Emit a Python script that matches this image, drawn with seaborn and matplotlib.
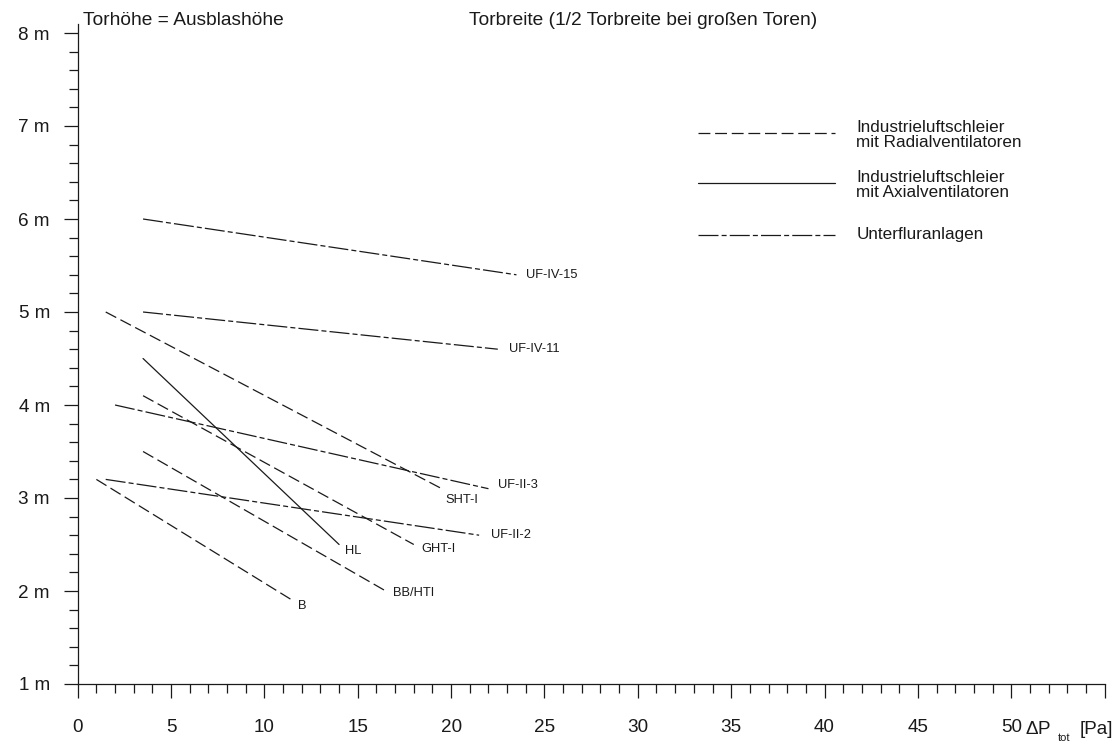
import matplotlib
matplotlib.use("Agg")
import matplotlib.pyplot as plt
import matplotlib.transforms as mtransforms
from matplotlib.lines import Line2D
import numpy as np
import pandas as pd
import seaborn as sns

# ---------------- data ----------------
names = ["B", "BB/HTI", "GHT-I", "SHT-I", "HL",
         "UF-II-2", "UF-II-3", "UF-IV-11", "UF-IV-15"]
groups = ["radial", "radial", "radial", "radial", "axial",
          "unterflur", "unterflur", "unterflur", "unterflur"]
x_start = [1.0, 3.5, 3.5, 1.5, 3.5, 1.5, 2.0, 3.5, 3.5]
x_end = [11.5, 16.5, 18.0, 19.5, 14.0, 21.5, 22.0, 22.5, 23.5]
y_start = [3.2, 3.5, 4.1, 5.0, 4.5, 3.2, 4.0, 5.0, 6.0]
y_end = [1.9, 2.0, 2.5, 3.1, 2.5, 2.6, 3.1, 4.6, 5.4]

x_ticks = [0, 5, 10, 15, 20, 25, 30, 35, 40, 45, 50, 55]
x_ticklabels = ["0", "5", "10", "15", "20", "25", "30", "35", "40", "45", "50", ""]
y_ticks = [1, 2, 3, 4, 5, 6, 7, 8]
y_ticklabels = ["1 m", "2 m", "3 m", "4 m", "5 m", "6 m", "7 m", "8 m"]

legend_labels = ["Industrieluftschleier\nmit Radialventilatoren",
                 "Industrieluftschleier\nmit Axialventilatoren",
                 "Unterfluranlagen"]
legend_groups = ["radial", "axial", "unterflur"]

title_left = "Torhöhe = Ausblashöhe"
title_right = "Torbreite (1/2 Torbreite bei großen Toren)"
x_unit_main = r"$\Delta$P"
x_unit_sub = "tot"
x_unit_tail = "[Pa]"

# ---------------- styles ----------------
line_styles = {
    "radial": (0, (9.5, 3.8)),
    "axial": "-",
    "unterflur": (0, (16, 2.5, 4, 2.5)),
}
label_offsets_px = {
    "B": (6, -6), "BB/HTI": (7, -2), "GHT-I": (8, -5), "SHT-I": (4, -11),
    "HL": (6, -7), "UF-II-2": (12, 0), "UF-II-3": (10, 4),
    "UF-IV-11": (11, 0), "UF-IV-15": (10, 0),
}

sns.set_theme(style="ticks")
plt.rcParams["font.family"] = ["Liberation Sans", "DejaVu Sans"]
plt.rcParams["mathtext.fontset"] = "custom"
plt.rcParams["mathtext.rm"] = "Liberation Sans"
plt.rcParams["mathtext.it"] = "Liberation Sans:italic"
plt.rcParams["mathtext.bf"] = "Liberation Sans:bold"

ink = "#1a1a1a"

fig = plt.figure(figsize=(11.2, 7.42), dpi=100)
ax = fig.add_axes([77.7 / 1120, 58 / 742, 1026.9 / 1120, 660.3 / 742])

rows = []
for n, g, xs, xe, ys, ye in zip(names, groups, x_start, x_end, y_start, y_end):
    rows.append({"name": n, "group": g, "x": xs, "y": ys})
    rows.append({"name": n, "group": g, "x": xe, "y": ye})
df = pd.DataFrame(rows)

for n, g in zip(names, groups):
    sub = df[df["name"] == n]
    sns.lineplot(data=sub, x="x", y="y", ax=ax, color=ink, lw=0.9,
                 linestyle=line_styles[g], sort=False, legend=False)
    end = sub.iloc[-1]
    ax.annotate(n, xy=(end["x"], end["y"]), xytext=label_offsets_px[n],
                textcoords="offset pixels", ha="left", va="center",
                fontsize=9.3, color=ink)

ax.set_xlim(0, 55)
ax.set_ylim(1, 8.1)
ax.set_xlabel("")
ax.set_ylabel("")
ax.set_xticks(x_ticks)
ax.set_xticklabels(x_ticklabels)
ax.set_xticks(np.arange(0, 56, 1), minor=True)
ax.set_yticks(y_ticks)
ax.set_yticklabels(y_ticklabels)
ax.set_yticks(np.arange(1, 8.01, 0.2), minor=True)

for side in ["top", "right"]:
    ax.spines[side].set_visible(False)
for side in ["left", "bottom"]:
    ax.spines[side].set_linewidth(0.9)
    ax.spines[side].set_color(ink)

ax.tick_params(axis="both", which="both", bottom=True, left=True,
               top=False, right=False)
ax.tick_params(axis="both", which="major", direction="out", length=10,
               width=0.9, color=ink, labelsize=13.6, labelcolor=ink)
ax.tick_params(axis="both", which="minor", direction="out", length=6.5,
               width=0.9, color=ink)
ax.tick_params(axis="x", which="major", pad=15)
ax.tick_params(axis="y", which="major", pad=10)

# unit label next to "50"
trans = mtransforms.blended_transform_factory(ax.transData, ax.transAxes)
ax.annotate(x_unit_main, xy=(50.75, 0), xycoords=trans, xytext=(0, -50),
            textcoords="offset pixels", ha="left", va="baseline",
            fontsize=13.6, color=ink)
ax.annotate(x_unit_sub, xy=(50.75, 0), xycoords=trans, xytext=(33, -57),
            textcoords="offset pixels", ha="left", va="baseline",
            fontsize=8, color=ink)
ax.annotate(x_unit_tail, xy=(50.75, 0), xycoords=trans, xytext=(54, -50),
            textcoords="offset pixels", ha="left", va="baseline",
            fontsize=13.6, color=ink)

# legend keys and texts
key_y = [6.925, 6.39, 5.83]
text_y = [6.903, 6.366, 5.828]
for g, lab, ky, ty in zip(legend_groups, legend_labels, key_y, text_y):
    ax.add_line(Line2D([33.2, 40.56], [ky, ky], color=ink, lw=0.9,
                       linestyle=line_styles[g]))
    ax.text(41.7, ty, lab, ha="left", va="center", fontsize=12.3,
            linespacing=1.02, color=ink)

# headers
fig.text(83 / 1120, 1 - 25 / 742, title_left, ha="left", va="baseline",
         fontsize=13.8, color=ink)
fig.text(469 / 1120, 1 - 25 / 742, title_right, ha="left", va="baseline",
         fontsize=13.8, color=ink)

fig.savefig("out.png", dpi=100)
